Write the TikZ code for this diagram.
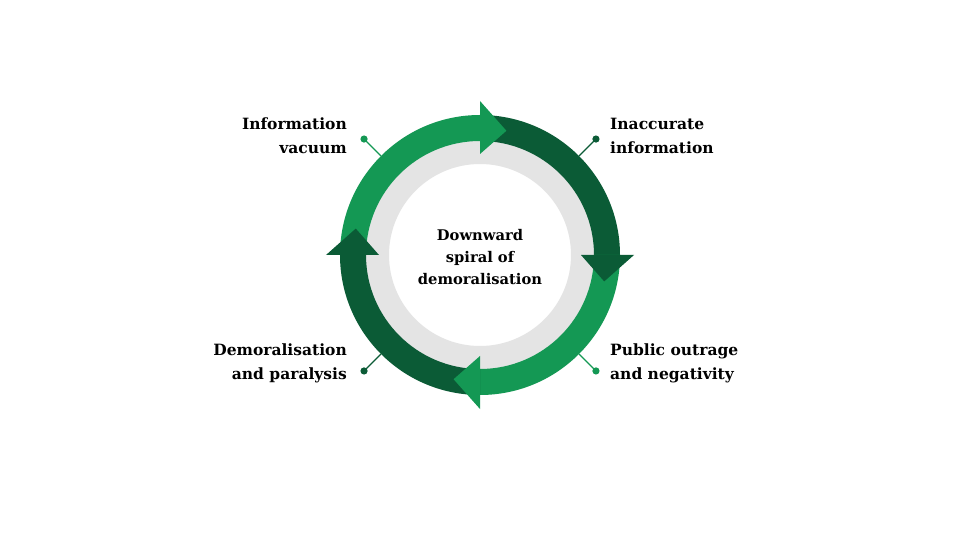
\documentclass[tikz,border=0pt]{standalone}
\usepackage{fontspec}
\setmainfont{DejaVu Serif}
\definecolor{lightgrn}{RGB}{20,152,84}
\definecolor{darkgrn}{RGB}{11,91,54}
\definecolor{ringgray}{RGB}{228,228,228}
\tikzset{
  lbl/.style={font=\bfseries\fontsize{15.5}{24}\selectfont,inner sep=0pt},
  mid/.style={font=\bfseries\fontsize{14.7}{22}\selectfont,align=center,inner sep=0pt},
  pin/.style={line width=1.3pt}
}
\begin{document}
\begin{tikzpicture}[x=1pt,y=1pt,line cap=round,line join=round]
  % page of 960 x 540 with the origin at the centre of the ring
  \useasboundingbox[fill=white] (-480,-285) rectangle (480,255);

  % grey ring behind the arrows
  \fill[ringgray,even odd rule] (0,0) circle (120) (0,0) circle (91);

  % arrow bodies, clockwise, each a quarter of the ring
  \fill[lightgrn] (180:140) arc[start angle=180,end angle=90,radius=140]
    -- (90:114) arc[start angle=90,end angle=180,radius=114] -- cycle;
  \fill[darkgrn] (90:140) arc[start angle=90,end angle=0,radius=140]
    -- (0:114) arc[start angle=0,end angle=90,radius=114] -- cycle;
  \fill[lightgrn] (0:140) arc[start angle=0,end angle=-90,radius=140]
    -- (-90:114) arc[start angle=-90,end angle=0,radius=114] -- cycle;
  \fill[darkgrn] (-90:140) arc[start angle=-90,end angle=-180,radius=140]
    -- (-180:114) arc[start angle=-180,end angle=-90,radius=114] -- cycle;

  % arrow heads
  \fill[lightgrn] (90:101) -- (90:154) -- (78:127) -- cycle;
  \fill[darkgrn] (0:101) -- (0:154) -- (-12:127) -- cycle;
  \fill[lightgrn] (-90:101) -- (-90:154) -- (-102:127) -- cycle;
  \fill[darkgrn] (180:101) -- (180:154) -- (168:127) -- cycle;

  % pins from the ring to the labels
  \coordinate (r1) at (135:140);
  \coordinate (d1) at (135:164);
  \coordinate (r2) at (45:140);
  \coordinate (d2) at (45:164);
  \coordinate (r3) at (-45:140);
  \coordinate (d3) at (-45:164);
  \coordinate (r4) at (-135:140);
  \coordinate (d4) at (-135:164);
  \draw[pin,lightgrn] (r1) -- (d1);
  \fill[lightgrn] (d1) circle (3.6);
  \draw[pin,darkgrn] (r2) -- (d2);
  \fill[darkgrn] (d2) circle (3.6);
  \draw[pin,lightgrn] (r3) -- (d3);
  \fill[lightgrn] (d3) circle (3.6);
  \draw[pin,darkgrn] (r4) -- (d4);
  \fill[darkgrn] (d4) circle (3.6);

  % labels
  \node[lbl,anchor=east,align=right] (vacuum) at (-133,119) {Information\\vacuum};
  \node[lbl,anchor=west,align=left] (inacc) at (130,119) {Inaccurate\\information};
  \node[lbl,anchor=west,align=left] (outrage) at (130,-108) {Public outrage\\and negativity};
  \node[lbl,anchor=east,align=right] (paralysis) at (-133,-108) {Demoralisation\\and paralysis};
  \node[mid] (spiral) at (0,-2) {Downward\\spiral of\\demoralisation};
\end{tikzpicture}
\end{document}
